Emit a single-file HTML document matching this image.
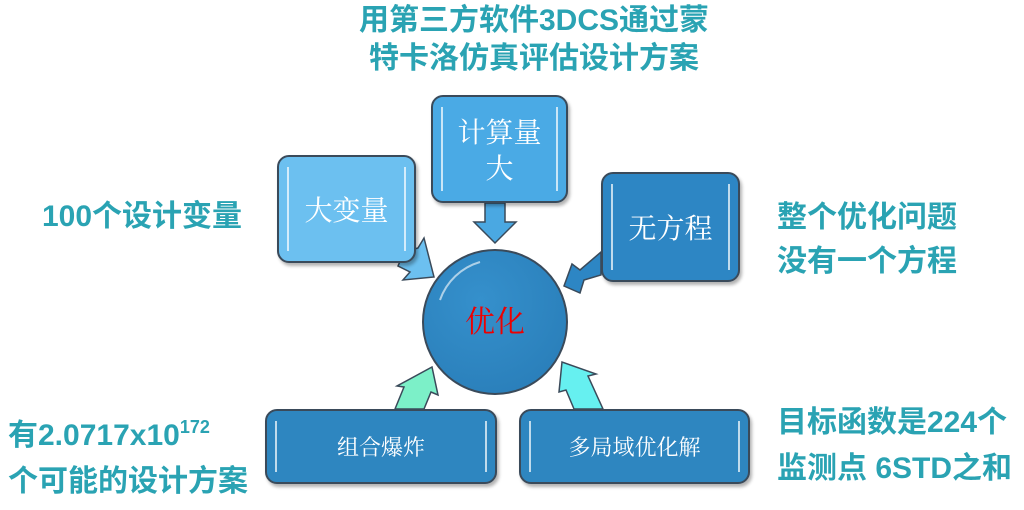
<!DOCTYPE html>
<html><head><meta charset="utf-8"><style>
body{margin:0;width:1024px;height:510px;background:#fff;overflow:hidden;position:relative;font-family:"Liberation Sans","Noto Sans CJK SC",sans-serif}
.t{position:absolute;color:#2aa3b3;font-weight:bold;font-size:30px;line-height:38px;white-space:nowrap}
.b{position:absolute;border-radius:12px;border:2px solid #3a4a5a;box-sizing:border-box;color:#fff;font-family:"Noto Serif CJK SC","Noto Sans CJK SC",serif;display:flex;align-items:center;justify-content:center;text-align:center;box-shadow:2px 3px 3px rgba(0,0,0,.3)}
.b::before,.b::after{content:"";position:absolute;top:10px;bottom:10px;width:2px;background:rgba(255,255,255,.7)}
.b::before{left:8px}.b::after{right:8px}
</style></head><body>
<div class="t" style="left:354px;top:2px;width:360px;text-align:center">用第三方软件3DCS通过蒙<br>特卡洛仿真评估设计方案</div>
<div class="t" style="left:42px;top:198px">100个设计变量</div>
<div class="t" style="left:777px;top:196px;line-height:44px">整个优化问题<br>没有一个方程</div>
<div class="t" style="left:8px;top:404px;line-height:46px">有2.0717x10<sup style="font-size:18px;vertical-align:12px">172</sup><br>个可能的设计方案</div>
<div class="t" style="left:777px;top:400px;line-height:46px">目标函数是224个<br>监测点 6STD之和</div>
<svg style="position:absolute;left:0;top:0" width="1024" height="510">
<g stroke="#3a4a5a" stroke-width="1.5">
<polygon points="485,203 505,203 505,222 516,222 495,243 474,222 485,222" fill="#4aa8e2"/>
<polygon points="404,252 418,248 424,238 434,277 403,280 410,272 398,266" fill="#6cc0f0"/>
<polygon points="601,252 601,275 584,280 580,293 564,286 572,264 580,270" fill="#2d86c4"/>
<polygon points="395,409 404,387 397,386 432,367 438,395 431,392 424,409" fill="#7cf0c8"/>
<polygon points="574,409 566,390 559,392 562,362 596,374 588,376 603,409" fill="#66f0f0"/>
</g>
<defs><radialGradient id="g" cx="40%" cy="35%" r="70%"><stop offset="0" stop-color="#3590cc"/><stop offset="1" stop-color="#2a7fba"/></radialGradient></defs>
<circle cx="495" cy="322" r="72" fill="url(#g)" stroke="#3a4a5a" stroke-width="2"/>
<path d="M440,300 A60,60 0 0 1 480,262" stroke="rgba(255,255,255,.6)" stroke-width="2" fill="none"/>
<text x="495" y="332" text-anchor="middle" fill="#e00" font-size="30" font-family="Noto Serif CJK SC,serif">优化</text>
</svg>
<div class="b" style="left:277px;top:155px;width:139px;height:108px;background:#6cc0f0;font-size:28px">大变量</div>
<div class="b" style="left:431px;top:95px;width:137px;height:108px;background:#4aaae5;font-size:28px;line-height:36px">计算量<br>大</div>
<div class="b" style="left:601px;top:172px;width:139px;height:110px;background:#2d86c4;font-size:28px">无方程</div>
<div class="b" style="left:265px;top:409px;width:232px;height:75px;background:#2e86c0;font-size:22px">组合爆炸</div>
<div class="b" style="left:519px;top:409px;width:231px;height:75px;background:#2e86c0;font-size:22px">多局域优化解</div>
</body></html>
